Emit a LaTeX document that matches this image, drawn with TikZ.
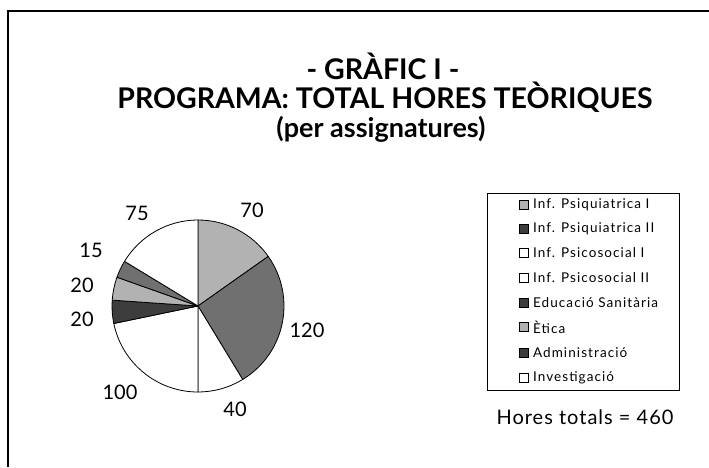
\documentclass[tikz,border=0pt]{standalone}
\usepackage{fontspec}
\setmainfont{Lato}
\newfontfamily\spacedfont[LetterSpace=8]{Lato}
\newfontfamily\totalfont[LetterSpace=5]{Lato}
\usetikzlibrary{positioning}
\definecolor{lightslice}{gray}{0.70}
\definecolor{darkslice}{gray}{0.44}
\definecolor{blackslice}{gray}{0.24}

\begin{document}
\begin{tikzpicture}[x=1pt,y=1pt,
    title/.style={font=\fontsize{28.5}{32}\selectfont\bfseries},
    subtitle/.style={font=\fontsize{27}{31}\selectfont\bfseries},
    slice/.style={draw=black,line width=0.8pt,line join=round},
    val/.style={font=\fontsize{20}{24}\selectfont},
    legkey/.style={rectangle,draw=black,line width=0.8pt,minimum size=9pt,inner sep=0pt},
    legtext/.style={inner sep=0pt,font=\spacedfont\fontsize{13.5}{16}\selectfont}]
    \useasboundingbox (0,0) rectangle (709,467);
    \draw[line width=1.6pt] (709,456) -- (8,456) -- (8,0);

    \node (title1) at (383,401) [title] {- GRÀFIC I -};
    \node (title2) at (385,370) [title] {PROGRAMA: TOTAL HORES TEÒRIQUES};
    \node (title3) at (381,338) [subtitle] {(per assignatures)};

    % pastis
    \coordinate (pie) at (198,161);
    \filldraw[slice,fill=lightslice] (pie) -- ++(90:86) arc (90:35.22:86) -- cycle;
    \filldraw[slice,fill=darkslice]  (pie) -- ++(35.22:86) arc (35.22:-58.70:86) -- cycle;
    \filldraw[slice,fill=white]      (pie) -- ++(-58.70:86) arc (-58.70:-90:86) -- cycle;
    \filldraw[slice,fill=white]      (pie) -- ++(-90:86) arc (-90:-168.26:86) -- cycle;
    \filldraw[slice,fill=blackslice] (pie) -- ++(-168.26:86) arc (-168.26:-183.91:86) -- cycle;
    \filldraw[slice,fill=lightslice] (pie) -- ++(-183.91:86) arc (-183.91:-199.57:86) -- cycle;
    \filldraw[slice,fill=darkslice]  (pie) -- ++(-199.57:86) arc (-199.57:-211.30:86) -- cycle;
    \filldraw[slice,fill=white]      (pie) -- ++(-211.30:86) arc (-211.30:-270:86) -- cycle;

    \node (valPsiqI)   at (252,257) [val] {70};
    \node (valPsiqII)  at (307,137) [val] {120};
    \node (valPsicI)   at (235,58)  [val] {40};
    \node (valPsicII)  at (120,75)  [val] {100};
    \node (valEduc)    at (82,148)  [val] {20};
    \node (valEtica)   at (82,182)  [val] {20};
    \node (valAdmin)   at (91,217)  [val] {15};
    \node (valInvest)  at (137,254) [val] {75};

    % llegenda
    \node (legend) at (583,175.5) [rectangle,draw,line width=0.8pt,minimum width=192pt,minimum height=197pt] {};
    \node (keyPsiqI)   at (524,262) [legkey,fill=lightslice] {};
    \node (keyPsiqII)  at (524,238) [legkey,fill=blackslice] {};
    \node (keyPsicI)   at (524,214) [legkey,fill=white] {};
    \node (keyPsicII)  at (524,189) [legkey,fill=white] {};
    \node (keyEduc)    at (524,164) [legkey,fill=blackslice] {};
    \node (keyEtica)   at (524,140) [legkey,fill=lightslice] {};
    \node (keyAdmin)   at (524,114) [legkey,fill=blackslice] {};
    \node (keyInvest)  at (524,89)  [legkey,fill=white] {};
    \node (txtPsiqI)   [legtext,right=4pt of keyPsiqI]  {Inf. Psiquiatrica I};
    \node (txtPsiqII)  [legtext,right=4pt of keyPsiqII] {Inf. Psiquiatrica II};
    \node (txtPsicI)   [legtext,right=4pt of keyPsicI]  {Inf. Psicosocial I};
    \node (txtPsicII)  [legtext,right=4pt of keyPsicII] {Inf. Psicosocial II};
    \node (txtEduc)    [legtext,right=4pt of keyEduc]   {Educació Sanitària};
    \node (txtEtica)   [legtext,right=4pt of keyEtica]  {Ètica};
    \node (txtAdmin)   [legtext,right=4pt of keyAdmin]  {Administració};
    \node (txtInvest)  [legtext,right=4pt of keyInvest] {Investigació};

    \node (total) at (585,50) [font=\totalfont\fontsize{20}{24}\selectfont] {Hores totals = 460};
\end{tikzpicture}
\end{document}
